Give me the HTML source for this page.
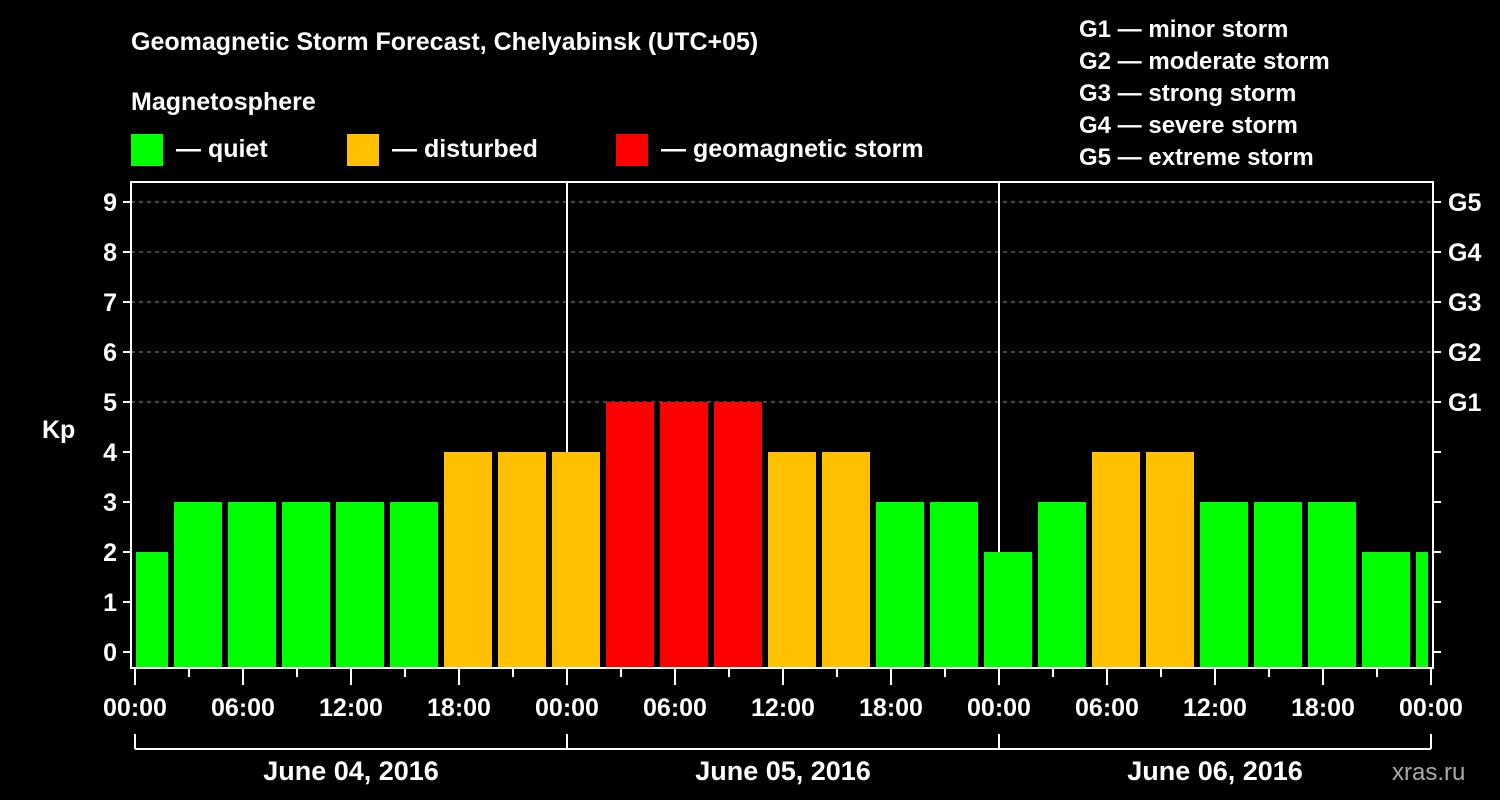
<!DOCTYPE html>
<html><head><meta charset="utf-8"><style>
html,body{margin:0;padding:0;background:#000;width:1500px;height:800px;overflow:hidden}
svg{display:block;font-family:"Liberation Sans",Arial,sans-serif;font-weight:bold}
</style></head><body>
<svg id="chart" width="1500" height="800" viewBox="0 0 1500 800">
<rect width="1500" height="800" fill="#000"/>
<text x="131" y="50" fill="#fff" font-size="25">Geomagnetic Storm Forecast, Chelyabinsk (UTC+05)</text>
<text x="131" y="110" fill="#fff" font-size="25">Magnetosphere</text>
<g><rect x="131" y="134" width="32" height="32" fill="#00ff00"/><text x="176" y="157" fill="#fff" font-size="25">— quiet</text></g>
<g><rect x="347" y="134" width="32" height="32" fill="#ffc000"/><text x="392" y="157" fill="#fff" font-size="25">— disturbed</text></g>
<g><rect x="616" y="134" width="32" height="32" fill="#ff0000"/><text x="661" y="157" fill="#fff" font-size="25">— geomagnetic storm</text></g>
<g fill="#fff" font-size="24">
<text x="1079" y="37">G1 — minor storm</text>
<text x="1079" y="69">G2 — moderate storm</text>
<text x="1079" y="101">G3 — strong storm</text>
<text x="1079" y="133">G4 — severe storm</text>
<text x="1079" y="165">G5 — extreme storm</text>
</g>
<text x="42" y="438" fill="#fff" font-size="25">Kp</text>
<text x="1392" y="780" fill="#aaa" font-size="24" font-weight="normal">xras.ru</text>
<g id="grid"></g><g id="bars"></g><g id="axes"></g>
</svg>
<script>
const kpValues=[2,3,3,3,3,3,4,4,4,5,5,5,4,4,3,3,2,3,4,4,3,3,3,2,2];
const yTicks=[0,1,2,3,4,5,6,7,8,9];
const gLabels=["G1","G2","G3","G4","G5"];
const gLevels=[5,6,7,8,9];
const xTickLabels=["00:00","06:00","12:00","18:00","00:00","06:00","12:00","18:00","00:00","06:00","12:00","18:00","00:00"];
const dayLabels=["June 04, 2016","June 05, 2016","June 06, 2016"];
const NS="http://www.w3.org/2000/svg";
const L=131,R=1433,T=182,B=668,X0=135,PXH=18;
const y=v=>652-v*50;
const x=h=>X0+h*PXH;
function mk(tag,attrs,parent){const e=document.createElementNS(NS,tag);for(const k in attrs)e.setAttribute(k,attrs[k]);parent.appendChild(e);return e;}
const grid=document.getElementById('grid'),bars=document.getElementById('bars'),axes=document.getElementById('axes');
gLevels.forEach((lv,i)=>{
 const ln=mk('line',{x1:L,x2:R,y1:y(lv),y2:y(lv),stroke:'#888','stroke-dasharray':'4,4','stroke-width':1},grid);
 
 
 const t=mk('text',{x:1448,y:y(lv)+9,fill:'#fff','font-size':25},axes);t.textContent=gLabels[i];
 
 
});
[1,2].forEach(d=>{
 const ln=mk('line',{x1:x(d*24),x2:x(d*24),y1:T,y2:B,stroke:'#fff','stroke-width':2},grid);
 
 
});
const color=v=>v>=5?'#ff0000':(v>=4?'#ffc000':'#00ff00');
kpValues.forEach((v,i)=>{
 const c=0.5+i*3;let x1=x(c)-24,x2=x(c)+24;x1=Math.max(x1,L+5);x2=Math.min(x2,R-5);
 const r=mk('rect',{x:x1,y:y(v),width:x2-x1,height:B-1-y(v),fill:color(v)},bars);
 
 
});
const fr=mk('rect',{x:L,y:T,width:R-L,height:B-T,fill:'none',stroke:'#fff','stroke-width':2},axes);


yTicks.forEach(v=>{
 mk('line',{x1:L-8,x2:L,y1:y(v),y2:y(v),stroke:'#fff','stroke-width':2},axes);
 mk('line',{x1:R,x2:R+8,y1:y(v),y2:y(v),stroke:'#fff','stroke-width':2},axes);
 const t=mk('text',{x:L-14,y:y(v)+9,fill:'#fff','font-size':25,'text-anchor':'end'},axes);t.textContent=v;
 
 
});
for(let h=0;h<=72;h+=3){
 const major=h%6===0;
 mk('line',{x1:x(h),x2:x(h),y1:B,y2:B+(major?17:9),stroke:'#fff','stroke-width':2},axes);
}
xTickLabels.forEach((s,i)=>{
 const t=mk('text',{x:x(i*6),y:716,fill:'#fff','font-size':25,'text-anchor':'middle'},axes);t.textContent=s;
 
 
});
mk('line',{x1:x(0),x2:x(72),y1:749,y2:749,stroke:'#fff','stroke-width':2},axes);
for(let d=0;d<=3;d++)mk('line',{x1:x(d*24),x2:x(d*24),y1:734,y2:749,stroke:'#fff','stroke-width':2},axes);
dayLabels.forEach((s,d)=>{
 const t=mk('text',{x:x(d*24+12),y:780,fill:'#fff','font-size':27,'text-anchor':'middle'},axes);t.textContent=s;
 
 
});
</script>
</body></html>
